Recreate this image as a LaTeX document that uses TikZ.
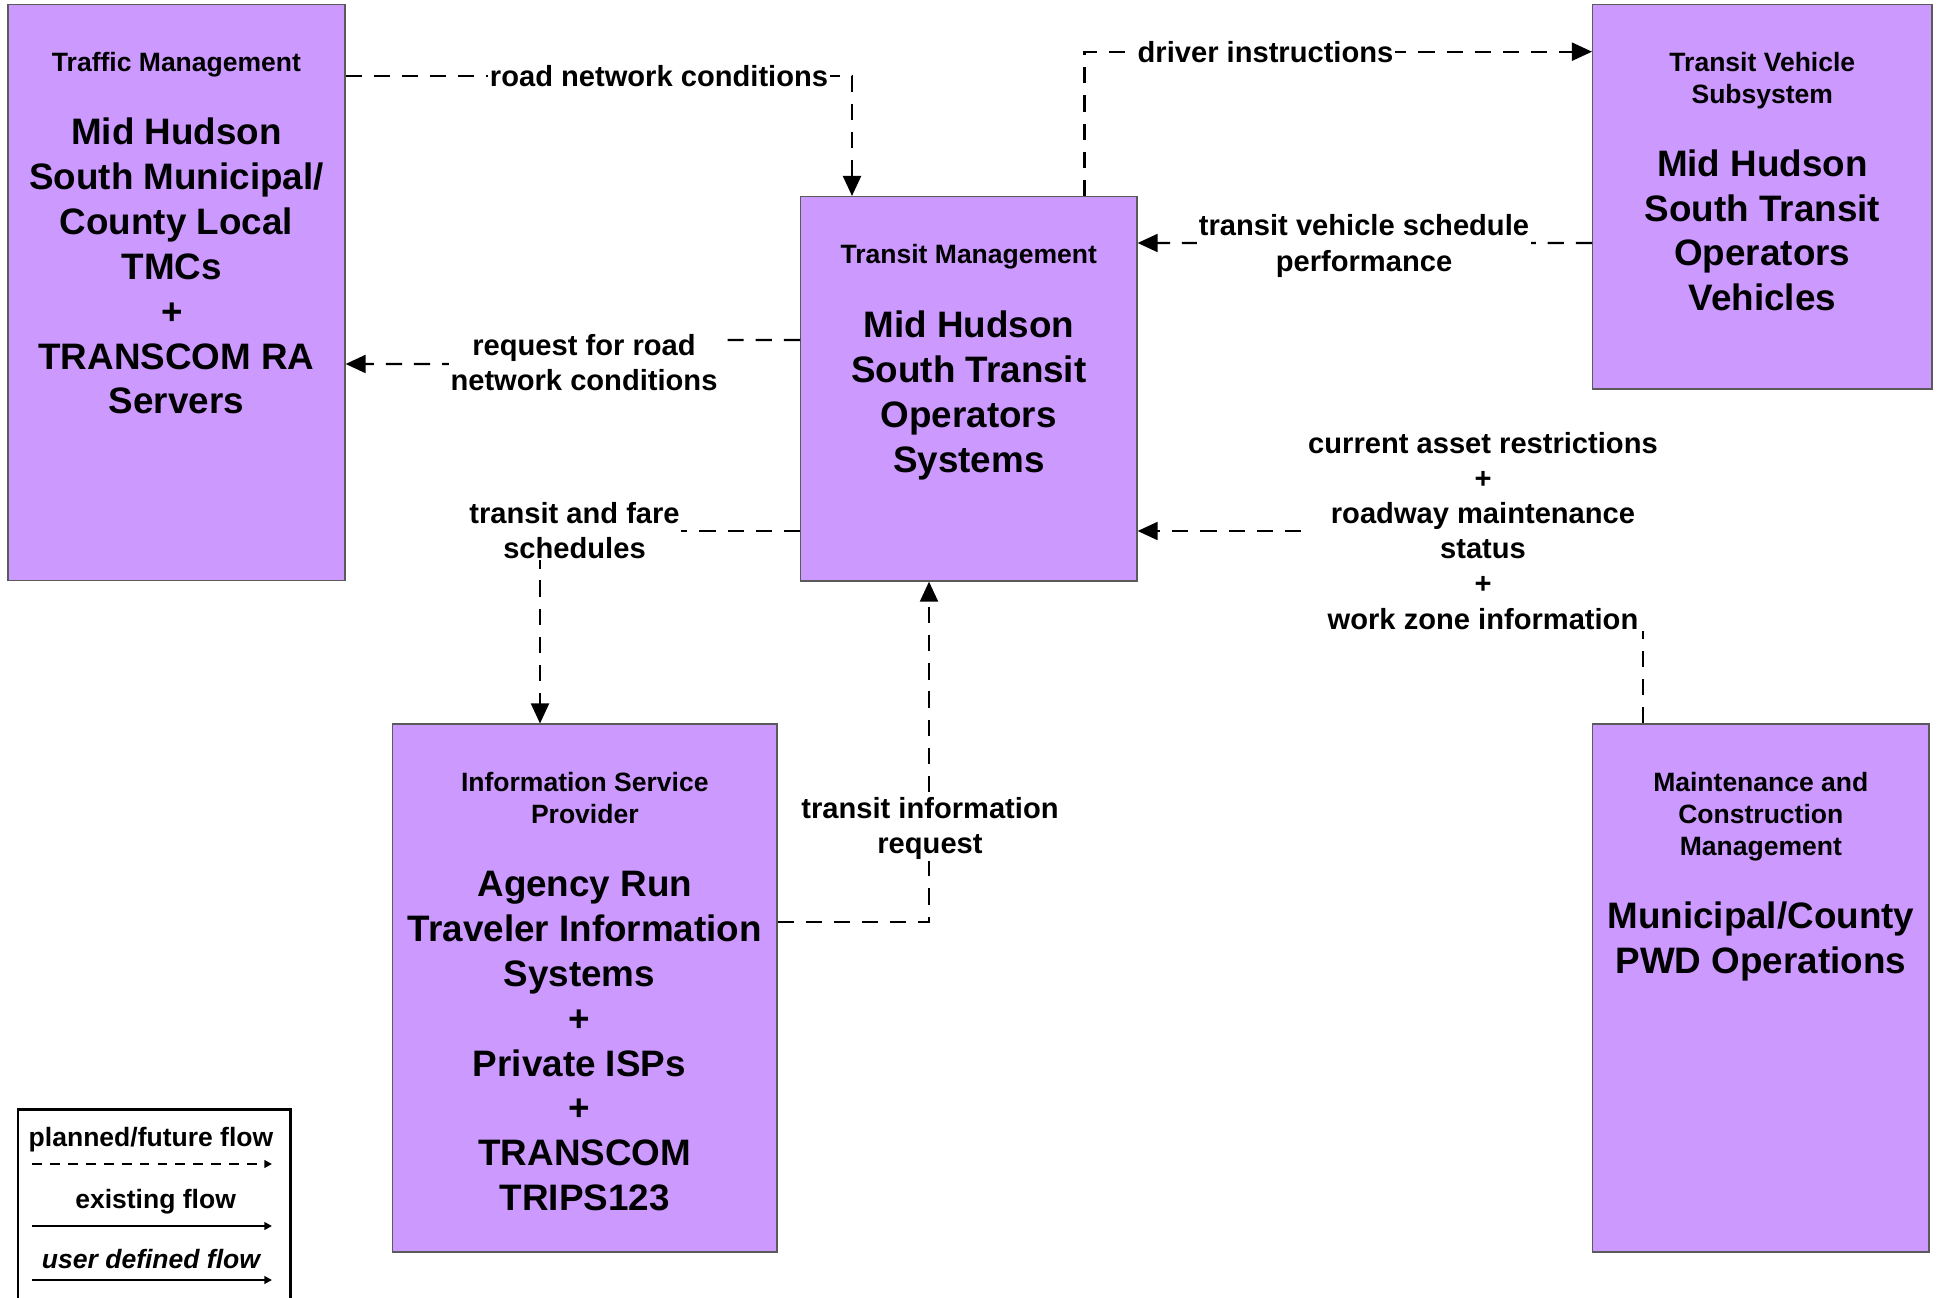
\documentclass[tikz,border=0pt]{standalone}
\usepackage{fontspec}
\setmainfont{Liberation Sans}
\usetikzlibrary{arrows.meta,calc}
\definecolor{boxfill}{HTML}{CC99FF}
\definecolor{boxline}{HTML}{5A5A5A}
\tikzset{
  sysbox/.style={draw=boxline, line width=0.4pt, fill=boxfill, inner sep=0pt, anchor=north west},
  hdr/.style={font=\fontsize{7.54}{9.1}\selectfont\bfseries, align=center, anchor=north, inner sep=0pt},
  bodytxt/.style={font=\fontsize{10.47}{12.75}\selectfont\bfseries, align=center, anchor=north, inner sep=0pt},
  lbl/.style={font=\fontsize{8.28}{10}\selectfont\bfseries, align=center, fill=white, inner sep=0.5pt},
  flow/.style={line width=0.65pt, dash pattern=on 4.6pt off 3.4pt, -{Triangle[length=5.7pt,width=5.1pt]}},
  legtxt/.style={font=\fontsize{7.54}{9.1}\selectfont\bfseries, inner sep=0pt},
  legline/.style={line width=0.55pt, -{Triangle[length=2.2pt,width=2.2pt]}},
}
\begin{document}
\begin{tikzpicture}[x=0.01cm, y=-0.01cm]
\useasboundingbox (0,0) rectangle (1940,1298);

% boxes
\node[sysbox, minimum width=3.366cm, minimum height=5.758cm] (tm) at (7.4,3.7) {};
\node[sysbox, minimum width=3.36cm, minimum height=3.84cm] (trm) at (800,196) {};
\node[sysbox, minimum width=3.39cm, minimum height=3.843cm] (tvs) at (1592,3.7) {};
\node[sysbox, minimum width=3.84cm, minimum height=5.275cm] (isp) at (392,723.5) {};
\node[sysbox, minimum width=3.36cm, minimum height=5.275cm] (mcm) at (1592,723.5) {};

% box texts
\node[hdr] (tmh) at ($(tm.north)+(0,44.7)$) {\strut Traffic Management};
\node[bodytxt] (tmb) at ($(tm.north)+(0,109.1)$) {\strut Mid Hudson\\South Municipal/\\County Local\\TMCs\kern2.6pt\\+\kern2.6pt\\TRANSCOM RA\\Servers};

\node[hdr] (trmh) at ($(trm.north)+(0,44.8)$) {\strut Transit Management};
\node[bodytxt] (trmb) at ($(trm.north)+(0,109.7)$) {\strut Mid Hudson\\South Transit\\Operators\\Systems};

\node[hdr] (tvsh) at ($(tvs.north)+(0,44.6)$) {\strut Transit Vehicle\\Subsystem};
\node[bodytxt] (tvsb) at ($(tvs.north)+(0,140.5)$) {\strut Mid Hudson\\South Transit\\Operators\\Vehicles};

\node[hdr] (isph) at ($(isp.north)+(0,44.8)$) {\strut Information Service\\Provider};
\node[bodytxt] (ispb) at ($(isp.north)+(0,141.2)$) {\strut Agency Run\\Traveler Information\\Systems\kern3.1pt\\+\kern3.1pt\\Private ISPs\kern3.1pt\\+\kern3.1pt\\TRANSCOM\\TRIPS123};

\node[hdr] (mcmh) at ($(mcm.north)+(0,44.8)$) {\strut Maintenance and\\Construction\\Management};
\node[bodytxt] (mcmb) at ($(mcm.north)+(0,173.2)$) {\strut Municipal/County\\PWD Operations};

% connectors
\draw[flow] ($(tm.north east)+(0,72)$) -| ($(trm.north west)+(52,0)$);
\draw[flow] ($(trm.north west)+(284.4,0)$) |- ($(tvs.north west)+(0,48)$);
\draw[flow] ($(tvs.north west)+(0,239.3)$) -- ($(trm.north east)+(0,47)$);
\draw[flow] ($(trm.north west)+(0,144)$) -- ++(-216,0) -- ++(0,24) -- ($(tm.north east)+(0,360.3)$);
\draw[flow] ($(trm.north west)+(0,335)$) -| ($(isp.north west)+(148,0)$);
\draw[flow] ($(isp.north east)+(0,198.5)$) -| ($(trm.south west)+(129,0)$);
\draw[flow] ($(mcm.north west)+(51,0)$) |- ($(trm.north east)+(0,335)$);

% connector labels
\node[lbl] (lroad) at (659,75.7) {road network conditions};
\node[lbl] (ldrv) at (1265.5,52) {driver instructions};
\node[lbl, anchor=north] (ltvsp) at (1364,208.8) {\strut transit vehicle schedule\\performance};
\node[lbl, anchor=north] (lreq) at (584,328.2) {\strut request for road\\network conditions};
\node[lbl, anchor=north] (lfare) at (574.5,496.2) {\strut transit and fare\\schedules};
\node[lbl, anchor=north] (ltir) at (930,791.2) {\strut transit information\\request};
\node[lbl, anchor=north] (lasset) at (1483,426.2) {\strut current asset restrictions\\+\\roadway maintenance\\status\\+\\work zone information};

% legend
\node[draw=black, line width=0.75pt, anchor=north west, minimum width=2.723cm, minimum height=2.3cm, inner sep=0pt] (leg) at (16.7,1108.4) {};
\node[legtxt] (leg1) at (151,1139.5) {planned/future flow};
\node[legtxt] (leg2) at (155.6,1201.6) {existing flow};
\node[legtxt] (leg3) at (151,1259.5) {\itshape user defined flow};
\coordinate (la1) at (32,1164);
\coordinate (lb1) at (272,1164);
\coordinate (la2) at (32,1226);
\coordinate (lb2) at (272,1226);
\coordinate (la3) at (32,1280);
\coordinate (lb3) at (272,1280);
\draw[legline, dash pattern=on 2.8pt off 2.3pt] (la1) -- (lb1);
\draw[legline] (la2) -- (lb2);
\draw[legline] (la3) -- (lb3);
\end{tikzpicture}
\end{document}
